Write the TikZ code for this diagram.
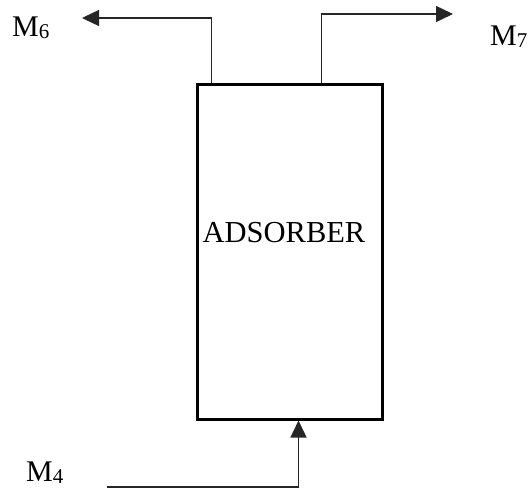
\documentclass[tikz,border=0pt]{standalone}
\usepackage{fontspec}
\setmainfont{Liberation Serif}
\usetikzlibrary{arrows.meta}

\newcommand{\strm}[1]{M\raisebox{-2.5pt}{\fontsize{21}{21}\selectfont #1}}

\tikzset{
  unit/.style={draw, line width=3pt, minimum width=185pt, minimum height=335pt, inner sep=0pt},
  flow/.style={draw=black!85, line width=1.4pt, -{Triangle[length=17pt, width=16pt]}},
  stream/.style={font=\fontsize{30}{30}\selectfont, inner sep=0pt, anchor=base west}
}

\begin{document}
\begin{tikzpicture}[x=1pt, y=-1pt]
    \useasboundingbox (0,0) rectangle (530,491);

    % Adsorber
    \node[unit] (ads) at (289.5,251.5) {};
    \node[font=\fontsize{30.5}{30.5}\selectfont, inner sep=0pt, anchor=base] (adslbl) at (284,242) {ADSORBER};

    % Corrientes
    \node[stream] (m6) at (12,36) {\strm{6}};
    \node[stream] (m7) at (490,45) {\strm{7}};
    \node[stream] (m4) at (26,481) {\strm{4}};

    \coordinate (m6end) at (82,18);
    \coordinate (m7end) at (453,14);
    \coordinate (m4start) at (107,487);

    % Salidas
    \draw[flow] ([xshift=16pt]ads.north west) |- (m6end);
    \draw[flow] ([xshift=-62pt]ads.north east) |- (m7end);
    % Entrada
    \draw[flow] (m4start) -| ([xshift=103pt]ads.south west);
\end{tikzpicture}
\end{document}
